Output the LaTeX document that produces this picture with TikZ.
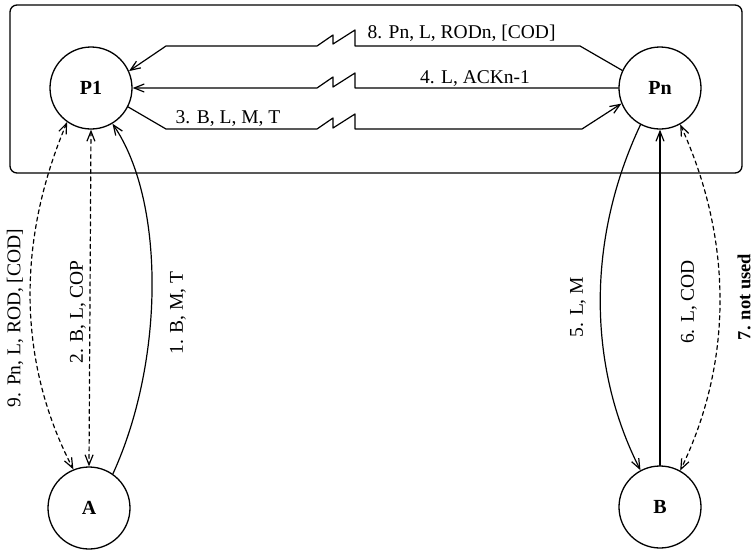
\documentclass[tikz,border=0pt]{standalone}
\usepackage{fontspec}
\setmainfont{Liberation Serif}
\usetikzlibrary{arrows.meta}

\begin{document}
\begin{tikzpicture}[x=1pt, y=-1pt, line width=1.2pt, line cap=round, line join=round,
  >={Straight Barb[length=10pt,width=8pt]},
  station/.style={circle, draw, line width=1.3pt, minimum size=82pt, inner sep=0pt,
                  font=\fontsize{20}{24}\selectfont\bfseries},
  msg/.style={inner sep=0pt, font=\fontsize{19.5}{23}\selectfont},
  optional/.style={dash pattern=on 4pt off 3.5pt}]

  %% ════ 外框（P1 … Pn 环）════
  \draw[line width=1.3pt, rounded corners=7pt] (10,5) rectangle (742,173);

  %% ════ 站点 ════
  \node[station] (P1) at (91,88)  {P1};
  \node[station] (Pn) at (660,88) {Pn};
  \node[station] (A)  at (89,508) {A};
  \node[station] (B)  at (660,507) {B};

  %% ════ 环上的消息（带折断号）════
  \draw[->] (Pn.155) -- (580,46) -- (355,46) -- (355,30) -- (333,44) -- (333,35) -- (317,46) -- (166,46) -- (P1.24);
  \draw[->] (Pn.west) -- (355,88) -- (355,73) -- (333,87) -- (333,77) -- (317,88) -- (P1.east);
  \draw[->] (P1.-27) -- (166,129) -- (317,129) -- (333,118) -- (333,128) -- (355,114) -- (355,129) -- (582,129) -- (Pn.-158);

  %% ════ A 侧 ════
  \draw[<->, optional] (P1.-125) .. controls (17,240) and (17,361) .. (A.112);
  \draw[<->, optional] (P1.south) -- (A.north);
  \draw[->] (A.55) .. controls (165,360) and (165,200) .. (P1.-59);

  %% ════ B 侧 ════
  \draw[->] (Pn.-118) .. controls (587,238) and (587,365) .. (B.118);
  \draw[->] (B.north) -- (Pn.south);
  \draw[<->, optional] (Pn.-61) .. controls (733,240) and (733,362) .. (B.61);

  %% ════ 标签 ════
  \node[msg, anchor=west] (m8) at (367,33) {8. Pn, L, RODn, [COD]};
  \node[msg] (m4) at (475,79)  {4. L, ACKn-1};
  \node[msg] (m3) at (228,119) {3. B, L, M, T};
  \node[msg, rotate=90] (m9) at (15,318)  {9. Pn, L, ROD, [COD]};
  \node[msg, rotate=90] (m2) at (78,312)  {2. B, L, COP};
  \node[msg, rotate=90] (m1) at (178,313) {1. B, M, T};
  \node[msg, rotate=90] (m5) at (578,307) {5. L, M};
  \node[msg, rotate=90] (m6) at (689,302) {6. L, COD};
  \node[msg, rotate=90, font=\fontsize{18.5}{22}\selectfont\bfseries] (m7) at (744,297) {7. not used};

  % 钉死画布
  \pgfresetboundingbox
  \path[use as bounding box] (0,0) rectangle (753,550);
\end{tikzpicture}
\end{document}
